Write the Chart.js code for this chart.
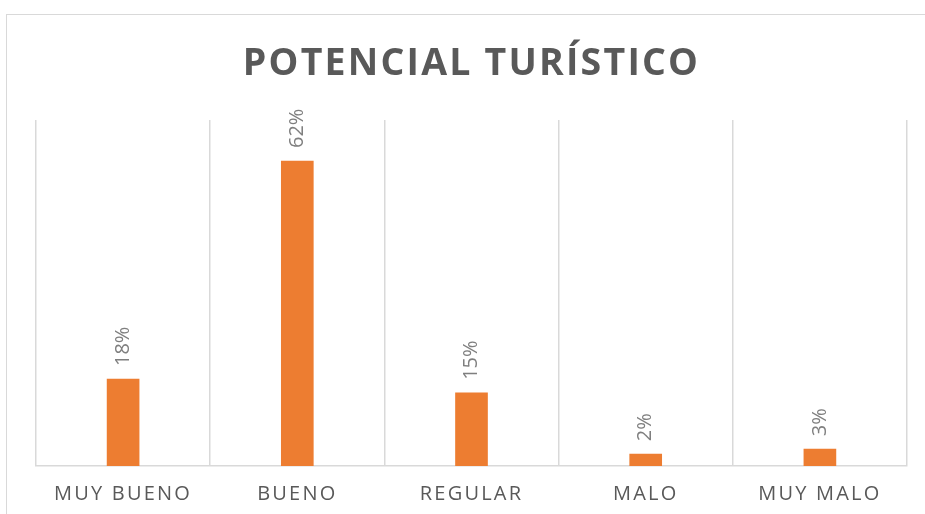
<!DOCTYPE html>
<html>
<head>
<meta charset="utf-8">
<script src="https://cdn.jsdelivr.net/npm/chart.js@4"></script>
<style>
  html, body { margin: 0; padding: 0; background: #fff; overflow: hidden; }
  #frame { position: absolute; left: 6px; top: 14px; width: 1000px; height: 600px; border: 1px solid #d9d9d9; }
  #wrap { position: absolute; left: 0; top: 0; width: 925px; height: 514px; }
</style>
</head>
<body>
<div id="frame"></div>
<div id="wrap"><canvas id="chart"></canvas></div>
<script>
const categories = ["MUY BUENO", "BUENO", "REGULAR", "MALO", "MUY MALO"];
const values = [17.6, 61.7, 14.8, 2.4, 3.4];
const chartTitle = "POTENCIAL TURÍSTICO";

// letter spacing for title and axis labels, none for the bar labels
const spacing = {
  id: "spacing",
  beforeDraw(chart) { chart.ctx.letterSpacing = "2.2px"; },
  afterDatasetsDraw(chart) {
    const ctx = chart.ctx;
    ctx.save();
    ctx.letterSpacing = "0px";
    ctx.font = "20px 'Open Sans'";
    ctx.fillStyle = "#7f7f7f";
    ctx.textAlign = "left";
    ctx.textBaseline = "middle";
    chart.getDatasetMeta(0).data.forEach((bar, i) => {
      ctx.save();
      ctx.translate(bar.x, bar.y - 13);
      ctx.rotate(-Math.PI / 2);
      ctx.fillText(Math.round(values[i]) + "%", 0, 0);
      ctx.restore();
    });
    ctx.restore();
  }
};

const ctx = document.getElementById("chart").getContext("2d");
new Chart(ctx, {
  type: "bar",
  data: {
    labels: categories,
    datasets: [{ data: values, backgroundColor: "#ed7d31", barThickness: 32 }]
  },
  options: {
    responsive: true,
    maintainAspectRatio: false,
    animation: false,
    layout: { padding: { left: 36, right: 18, top: 0, bottom: 10 } },
    plugins: {
      legend: { display: false },
      tooltip: { enabled: false },
      title: {
        display: true,
        text: chartTitle,
        color: "#595959",
        font: { family: "Open Sans", size: 37.5, weight: "bold" },
        padding: { top: 42, bottom: 33 }
      }
    },
    scales: {
      x: {
        grid: { color: "#d9d9d9", lineWidth: 1.5, drawTicks: false, offset: true },
        border: { color: "#d9d9d9", width: 1.5 },
        ticks: { color: "#595959", font: { family: "Open Sans", size: 20 }, padding: 16, maxRotation: 0 },
        afterFit(scale) { scale.height = 38; }
      },
      y: { display: false, min: 0, max: 70 }
    }
  },
  plugins: [spacing]
});
</script>
</body>
</html>
